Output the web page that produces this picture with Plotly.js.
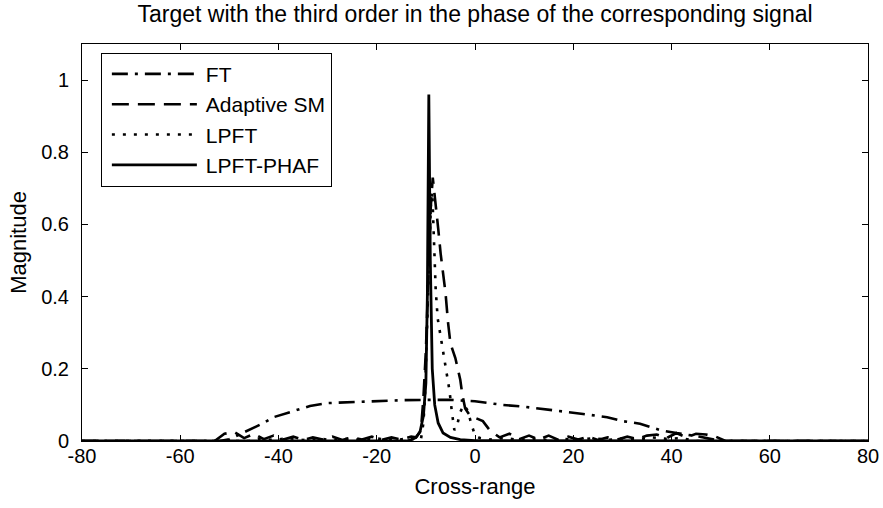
<!DOCTYPE html>
<html>
<head>
<meta charset="utf-8">
<script src="https://cdn.plot.ly/plotly-3.0.1.min.js"></script>
<style>html,body{margin:0;padding:0;background:#fff;}#chart{width:883px;height:508px;}</style>
</head>
<body>
<div id="chart"></div>
<script>
// ---- data ----
const seriesNames = ["FT", "Adaptive SM", "LPFT", "LPFT-PHAF"];

const ftX = [-80, -52, -50, -48.9, -45.8, -43, -41, -37.7, -33.6, -30, -25, -20, -15, -10, -5, 0, 5.7, 10, 13.8, 18, 22, 26.9, 30, 33.6, 37.7, 41, 45.8, 50, 80];
const ftY = [0, 0, 0.005, 0.012, 0.03, 0.05, 0.066, 0.08, 0.097, 0.105, 0.108, 0.111, 0.113, 0.114, 0.114, 0.11, 0.1, 0.095, 0.089, 0.082, 0.075, 0.066, 0.055, 0.048, 0.03, 0.022, 0.012, 0, 0];

const smX = [-80, -53, -51, -49, -47, -45, -43, -41, -39, -37, -35, -33, -31, -29, -27, -25, -23, -21, -19, -17, -15, -13, -12, -11, -10.5, -10, -9.5, -9, -8.6, -8, -7.5, -7, -6.5, -6, -5.5, -5, -4, -3, -2.6, -2, -1, 0, 1.6, 3, 5, 7, 9, 11, 13, 15, 17, 19, 21, 23, 25, 27, 29, 31, 33, 35, 37, 39, 41, 43, 45, 47, 49, 51, 80];
const smY = [0, 0, 0.02, 0.025, 0.008, 0.02, 0.005, 0.015, 0.004, 0.012, 0.003, 0.01, 0.004, 0.012, 0.003, 0.01, 0.004, 0.012, 0.003, 0.01, 0.004, 0.012, 0.01, 0.03, 0.12, 0.25, 0.45, 0.65, 0.73, 0.66, 0.59, 0.52, 0.47, 0.41, 0.33, 0.27, 0.23, 0.17, 0.13, 0.09, 0.07, 0.065, 0.055, 0.03, 0.01, 0.02, 0.005, 0.015, 0.004, 0.015, 0.003, 0.012, 0.004, 0.012, 0.003, 0.01, 0.004, 0.012, 0.005, 0.015, 0.018, 0.008, 0.022, 0.01, 0.02, 0.018, 0.012, 0, 0];

const lpX = [-80, -46, -44, -41, -38, -35, -32, -29, -26, -23, -20, -17, -14, -12, -11, -10.5, -10.2, -9.8, -9.4, -9, -8.7, -8.3, -8, -7.6, -7, -6.3, -5.8, -5.2, -4.7, -4.2, -3.7, -3, -2.3, -1.5, -0.8, 0, 1, 3, 6, 9, 12, 15, 18, 21, 24, 27, 30, 33, 36, 39, 42, 45, 80];
const lpY = [0, 0, 0.006, 0.003, 0.008, 0.003, 0.007, 0.002, 0.006, 0.003, 0.007, 0.002, 0.006, 0.004, 0.005, 0.05, 0.12, 0.3, 0.5, 0.65, 0.69, 0.55, 0.42, 0.34, 0.29, 0.23, 0.19, 0.14, 0.08, 0.03, 0.04, 0.08, 0.1, 0.085, 0.05, 0.015, 0.008, 0.004, 0.008, 0.003, 0.007, 0.002, 0.006, 0.003, 0.008, 0.003, 0.007, 0.004, 0.01, 0.006, 0.008, 0, 0];

const phX = [-80, -14, -13, -12, -11.2, -10.5, -10, -9.7, -9.4, -9.1, -8.7, -8.2, -7.5, -6.5, -5, -3, 0, 80];
const phY = [0, 0, 0.003, 0.01, 0.025, 0.07, 0.16, 0.4, 0.96, 0.5, 0.2, 0.1, 0.05, 0.022, 0.01, 0.004, 0.001, 0];

const xTicks = [-80, -60, -40, -20, 0, 20, 40, 60, 80];
const yTicks = [0, 0.2, 0.4, 0.6, 0.8, 1];
const yTickText = ["0", "0.2", "0.4", "0.6", "0.8", "1"];

// ---- chart ----
const FONT = "Liberation Sans, Arial, Helvetica, sans-serif";
const traces = [
  {x: ftX, y: ftY, name: seriesNames[0], line: {color: "#000", width: 2.6, dash: "16px,7px,3px,7px"}},
  {x: smX, y: smY, name: seriesNames[1], line: {color: "#000", width: 2.6, dash: "17px,9px"}},
  {x: lpX, y: lpY, name: seriesNames[2], line: {color: "#000", width: 2.6, dash: "3px,8px"}},
  {x: phX, y: phY, name: seriesNames[3], line: {color: "#000", width: 2.8}}
].map(t => Object.assign({type: "scatter", mode: "lines"}, t));

const axisCommon = {
  showgrid: false, zeroline: false, showline: true, mirror: "ticks",
  linecolor: "#000", linewidth: 1, ticks: "inside", ticklen: 6, tickcolor: "#000",
  tickfont: {family: FONT, size: 20, color: "#000"}
};

const layout = {
  width: 883, height: 508,
  margin: {l: 82, r: 15, t: 44, b: 67},
  paper_bgcolor: "#fff", plot_bgcolor: "#fff",
  font: {family: FONT, color: "#000"},
  title: {text: "Target with the third order in the phase of the corresponding signal",
          font: {family: FONT, size: 23, color: "#000"}, x: 0.538, xanchor: "center", y: 0.972, yanchor: "middle"},
  xaxis: Object.assign({}, axisCommon, {range: [-80, 80], tickvals: xTicks, ticktext: xTicks.map(String),
          ticklabelstandoff: -3,
          title: {text: "Cross-range", font: {family: FONT, size: 22, color: "#000"}, standoff: 12}}),
  yaxis: Object.assign({}, axisCommon, {range: [0, 1.1], tickvals: yTicks, ticktext: yTickText,
          ticklabelstandoff: 8,
          title: {text: "Magnitude", font: {family: FONT, size: 22, color: "#000"}, standoff: 8}}),
  showlegend: true,
  legend: {x: 0.024, y: 0.978, xanchor: "left", yanchor: "top", bgcolor: "#fff",
           bordercolor: "#000", borderwidth: 1, font: {family: FONT, size: 21, color: "#000"},
           tracegroupgap: 0, itemwidth: 94}
};

Plotly.newPlot("chart", traces, layout, {displayModeBar: false, staticPlot: true}).then(function () {
  // lengthen the legend line samples to match the reference legend
  document.querySelectorAll("#chart .legend .legendlines path").forEach(function (p) {
    p.setAttribute("d", "M10,0h85");
  });
});
</script>
</body>
</html>
